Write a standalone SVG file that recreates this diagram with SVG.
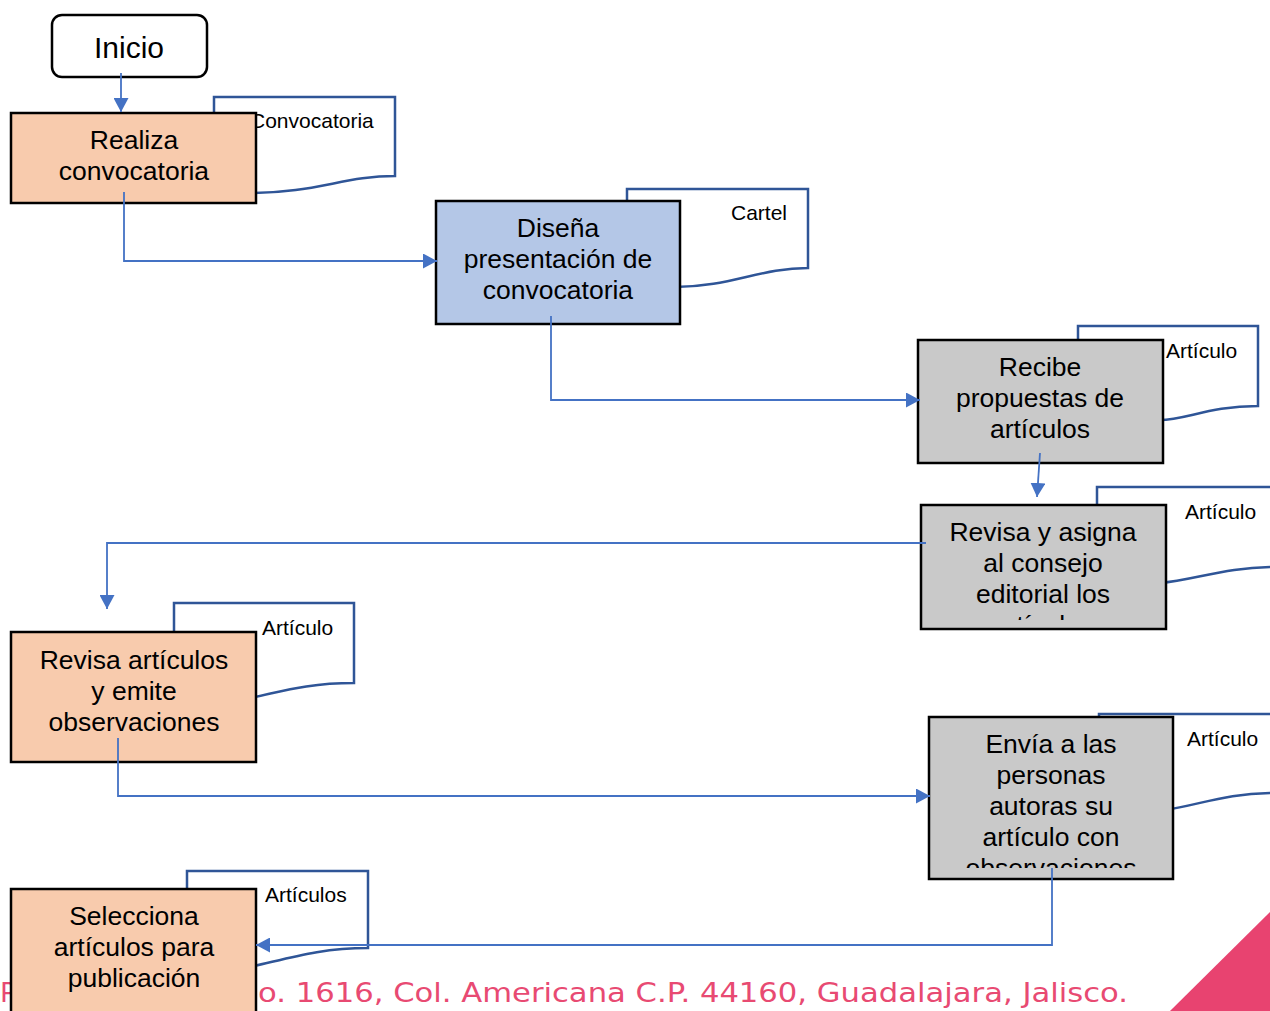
<svg xmlns="http://www.w3.org/2000/svg" width="1270" height="1011" viewBox="0 0 1270 1011">
  <style>
    .box { stroke: #000; stroke-width: 2.5; }
    .peach { fill: #F8CBAD; }
    .blue { fill: #B4C7E7; }
    .gray { fill: #C9C9C9; }
    .doc { fill: #fff; stroke: #2F5597; stroke-width: 2.5; }
    .t { font-family: "Liberation Sans", Arial, sans-serif; font-size: 26.5px; fill: #000; text-anchor: middle; }
    .lbl { font-family: "Liberation Sans", Arial, sans-serif; font-size: 21px; fill: #000; }
    .conn { fill: none; stroke: #4472C4; stroke-width: 1.8; }
    .foot { font-family: "DejaVu Sans", "Liberation Sans", sans-serif; font-size: 27px; font-weight: 400; fill: #E84A72; }
  </style>
  <defs>
    <marker id="arrow" markerUnits="userSpaceOnUse" markerWidth="14" markerHeight="15" refX="14" refY="7.5" orient="auto">
      <path d="M0,0 L14,7.5 L0,15 z" fill="#4472C4"/>
    </marker>
    <clipPath id="clipRevisa"><rect x="921" y="505" width="245" height="115"/></clipPath>
    <clipPath id="clipEnvia"><rect x="929" y="717" width="244" height="151"/></clipPath>
  </defs>

  <!-- footer address and corner accent -->
  <g id="footer">
    <text class="foot" x="0" y="1002">P</text>
    <text class="foot" x="258" y="1002" textLength="870" lengthAdjust="spacingAndGlyphs">o. 1616, Col. Americana C.P. 44160, Guadalajara, Jalisco.</text>
    <polygon points="1170,1011 1270,912 1270,1011" fill="#E84370"/>
  </g>

  <!-- documents produced by each step -->
  <g id="doc-convocatoria">
    <path class="doc" d="M214,120 V97 H395 V176 C345,176 315,193 250,193"/>
    <text class="lbl" x="250" y="128">Convocatoria</text>
  </g>
  <g id="doc-cartel">
    <path class="doc" d="M627,205 V189 H808 V268 C760,268 730,287 675,287"/>
    <text class="lbl" x="731" y="220">Cartel</text>
  </g>
  <g id="doc-articulo-1">
    <path class="doc" d="M1078,345 V326 H1258 V406 C1210,406 1185,420 1160,420"/>
    <text class="lbl" x="1166" y="358">Artículo</text>
  </g>
  <g id="doc-articulo-2">
    <path class="doc" d="M1097,510 V487 H1275 M1275,567 C1225,567 1195,580 1160,583"/>
    <text class="lbl" x="1185" y="519">Artículo</text>
  </g>
  <g id="doc-articulo-3">
    <path class="doc" d="M174,640 V603 H354 V683 C306,683 280,692 250,698"/>
    <text class="lbl" x="262" y="635">Artículo</text>
  </g>
  <g id="doc-articulo-4">
    <path class="doc" d="M1099,725 V714 H1275 M1275,793 C1225,793 1200,805 1165,810"/>
    <text class="lbl" x="1187" y="746">Artículo</text>
  </g>
  <g id="doc-articulos">
    <path class="doc" d="M187,895 V871 H368 V948 C320,948 290,958 250,967"/>
    <text class="lbl" x="265" y="902">Artículos</text>
  </g>

  <!-- process steps -->
  <g id="inicio">
    <rect x="52" y="15" width="155" height="62" rx="10" fill="#fff" stroke="#000" stroke-width="2.5"/>
    <text class="t" x="129" y="58" style="font-size:30px">Inicio</text>
  </g>
  <g id="realiza">
    <rect class="box peach" x="11" y="113" width="245" height="90"/>
    <text class="t" x="134" y="149">Realiza</text>
    <text class="t" x="134" y="180">convocatoria</text>
  </g>
  <g id="disena">
    <rect class="box blue" x="436" y="201" width="244" height="123"/>
    <text class="t" x="558" y="237">Diseña</text>
    <text class="t" x="558" y="268">presentación de</text>
    <text class="t" x="558" y="299">convocatoria</text>
  </g>
  <g id="recibe">
    <rect class="box gray" x="918" y="340" width="245" height="123"/>
    <text class="t" x="1040" y="376">Recibe</text>
    <text class="t" x="1040" y="407">propuestas de</text>
    <text class="t" x="1040" y="438">artículos</text>
  </g>
  <g id="revisa-asigna">
    <rect class="box gray" x="921" y="505" width="245" height="124"/>
    <g clip-path="url(#clipRevisa)">
      <text class="t" x="1043" y="541">Revisa y asigna</text>
      <text class="t" x="1043" y="572">al consejo</text>
      <text class="t" x="1043" y="603">editorial los</text>
      <text class="t" x="1043" y="634">artículos</text>
    </g>
  </g>
  <g id="revisa-articulos">
    <rect class="box peach" x="11" y="632" width="245" height="130"/>
    <text class="t" x="134" y="669">Revisa artículos</text>
    <text class="t" x="134" y="700">y emite</text>
    <text class="t" x="134" y="731">observaciones</text>
  </g>
  <g id="envia">
    <rect class="box gray" x="929" y="717" width="244" height="162"/>
    <g clip-path="url(#clipEnvia)">
      <text class="t" x="1051" y="753">Envía a las</text>
      <text class="t" x="1051" y="784">personas</text>
      <text class="t" x="1051" y="815">autoras su</text>
      <text class="t" x="1051" y="846">artículo con</text>
      <text class="t" x="1051" y="877">observaciones</text>
    </g>
  </g>
  <g id="selecciona">
    <rect class="box peach" x="11" y="889" width="245" height="130"/>
    <text class="t" x="134" y="925">Selecciona</text>
    <text class="t" x="134" y="956">artículos para</text>
    <text class="t" x="134" y="987">publicación</text>
  </g>

  <!-- connectors -->
  <g id="connectors">
    <path class="conn" d="M121,73 V112" marker-end="url(#arrow)"/>
    <path class="conn" d="M124,192 V261 H437" marker-end="url(#arrow)"/>
    <path class="conn" d="M551,316 V400 H920" marker-end="url(#arrow)"/>
    <path class="conn" d="M1040,453 L1037,497" marker-end="url(#arrow)"/>
    <path class="conn" d="M926,543 H107 V609" marker-end="url(#arrow)"/>
    <path class="conn" d="M118,738 V796 H930" marker-end="url(#arrow)"/>
    <path class="conn" d="M1052,868 V945 H256" marker-end="url(#arrow)"/>
  </g>
</svg>
